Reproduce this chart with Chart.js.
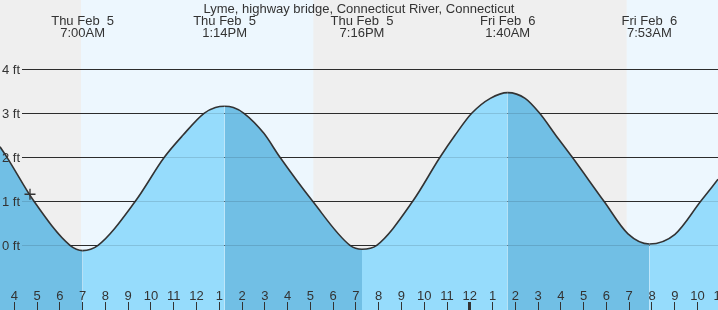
<!DOCTYPE html>
<html><head><meta charset="utf-8">
<script src="https://cdn.jsdelivr.net/npm/chart.js@4.4.1/dist/chart.umd.min.js"></script>
<style>html,body{margin:0;padding:0;background:#fff;overflow:hidden}canvas{display:block}</style>
</head><body>
<canvas id="c" width="718" height="310"></canvas>
<script>
// ---- data (hours since midnight Thu Feb 5, heights in ft) ----
const TITLE = "Lyme, highway bridge, Connecticut River, Connecticut";
const tideTimes   = [3.372, 3.679, 4.865, 6.446, 7.000, 7.675, 9.313, 10.586, 11.400, 12.330, 12.830, 13.233, 13.620, 14.085, 14.950, 15.666, 17.102, 18.740, 19.267, 19.912, 21.493, 22.691, 23.350, 24.083, 24.900, 25.667, 26.430, 27.069, 27.750, 28.501, 29.892, 30.946, 31.883, 33.009, 34.138, 34.898];
const tideHeights = [2.24,  2.00,  1.00,  0.00,  -0.12, 0.00,  1.00,  2.00,   2.50,   3.00,   3.13,   3.16,   3.13,   3.00,   2.55,   2.00,   1.00,   0.00,   -0.09,  0.00,   1.00,   2.00,   2.50,   3.00,   3.34,   3.47,   3.34,   3.00,   2.52,   2.00,   1.00,   0.26,   0.03,   0.25,   1.00,   1.50];
const nowTimes   = [4.689];
const nowHeights = [1.16];
const extremeTimes = [7.000, 13.233, 19.267, 25.667, 31.883];
const extremeDays  = ["Thu Feb  5", "Thu Feb  5", "Thu Feb  5", "Fri Feb  6", "Fri Feb  6"];
const extremeClock = ["7:00AM", "1:14PM", "7:16PM", "1:40AM", "7:53AM"];
const sunrises = [6.929, 30.889];
const sunsets  = [17.129, 41.0];
const hourTicks  = [4,5,6,7,8,9,10,11,12,13,14,15,16,17,18,19,20,21,22,23,24,25,26,27,28,29,30,31,32,33,34,35];
const hourLabels = ["4","5","6","7","8","9","10","11","12","1","2","3","4","5","6","7","8","9","10","11","12","1","2","3","4","5","6","7","8","9","10","11"];
const midnightTicks = [24];
const heightTicks  = [0,1,2,3,4];
const heightLabels = ["0 ft","1 ft","2 ft","3 ft","4 ft"];

const NIGHT = '#efefef', DAY = '#edf7fe';
const FILL_LIGHT = '#96dcfc', FILL_DARK = '#71bfe5';
const INK = '#333333';
const FONT = '13px "Liberation Sans", Arial, sans-serif';

const tidePoints = tideTimes.map((t, i) => ({x: t, y: tideHeights[i]}));
const nowPoints = nowTimes.map((t, i) => ({x: t, y: nowHeights[i]}));

function drawGrid(chart, color) {
  const {ctx, chartArea, scales: {y}} = chart;
  ctx.save();
  ctx.strokeStyle = color; ctx.lineWidth = 1;
  heightTicks.forEach(v => {
    const py = Math.floor(y.getPixelForValue(v)) + 0.5;
    ctx.beginPath(); ctx.moveTo(22, py); ctx.lineTo(chartArea.right, py); ctx.stroke();
  });
  ctx.restore();
}

const decor = {
  id: 'decor',
  beforeDatasetsDraw(chart) {
    const {ctx, chartArea, scales: {x}} = chart;
    ctx.save();
    ctx.fillStyle = NIGHT;
    ctx.fillRect(chartArea.left, chartArea.top, chartArea.width, chartArea.height);
    ctx.fillStyle = DAY;
    sunrises.forEach((s, i) => {
      const a = Math.max(chartArea.left, x.getPixelForValue(s));
      const b = Math.min(chartArea.right, x.getPixelForValue(sunsets[i]));
      if (b > a) ctx.fillRect(a, chartArea.top, b - a, chartArea.height);
    });
    ctx.restore();
    drawGrid(chart, INK);
  },
  afterDatasetsDraw(chart) {
    const {ctx, chartArea, scales: {x, y}} = chart;
    drawGrid(chart, 'rgba(0,0,0,0.12)');
    ctx.save();
    ctx.fillStyle = INK; ctx.strokeStyle = INK;
    ctx.font = FONT;
    // y labels
    ctx.textAlign = 'left'; ctx.textBaseline = 'alphabetic';
    heightTicks.forEach((v, i) => {
      const py = y.getPixelForValue(v);
      ctx.fillText(heightLabels[i], 2, Math.round(py) + 4.5);
    });
    // hour ticks & labels
    ctx.textAlign = 'center';
    hourTicks.forEach((h, i) => {
      const px = x.getPixelForValue(h);
      const w = midnightTicks.includes(h) ? 3 : 1;
      ctx.fillRect(Math.round(px - w / 2), 302, w, chartArea.bottom - 302);
      ctx.fillText(hourLabels[i], px, 300);
    });
    // tide extreme labels
    extremeTimes.forEach((t, i) => {
      const px = x.getPixelForValue(t);
      ctx.fillText(extremeDays[i], px, 24.5);
      ctx.fillText(extremeClock[i], px, 37);
    });
    // title
    ctx.fillText(TITLE, (chartArea.left + chartArea.right) / 2, 12.5);
    ctx.restore();
  }
};

new Chart(document.getElementById('c'), {
  type: 'line',
  data: {
    datasets: [
      {
        data: tidePoints,
        borderColor: INK,
        borderWidth: 1.6,
        pointRadius: 0,
        cubicInterpolationMode: 'monotone',
        fill: 'start',
        backgroundColor: FILL_LIGHT,
        segment: {
          backgroundColor: c => (c.p1.parsed.y < c.p0.parsed.y ? FILL_DARK : FILL_LIGHT)
        },
        order: 2
      },
      {
        data: nowPoints,
        showLine: false,
        fill: false,
        pointStyle: 'cross',
        pointRadius: 5.5,
        pointBorderColor: INK,
        pointBorderWidth: 1.3,
        borderColor: INK,
        order: 1
      }
    ]
  },
  options: {
    responsive: false,
    animation: false,
    devicePixelRatio: 1,
    layout: {padding: 0, autoPadding: false},
    plugins: {legend: {display: false}, tooltip: {enabled: false}, title: {display: false}},
    scales: {
      x: {type: 'linear', min: 3.372, max: 34.898, display: false},
      y: {type: 'linear', min: -1.470, max: 5.575, display: false}
    },
    clip: false
  },
  plugins: [decor]
});
</script>
</body></html>
